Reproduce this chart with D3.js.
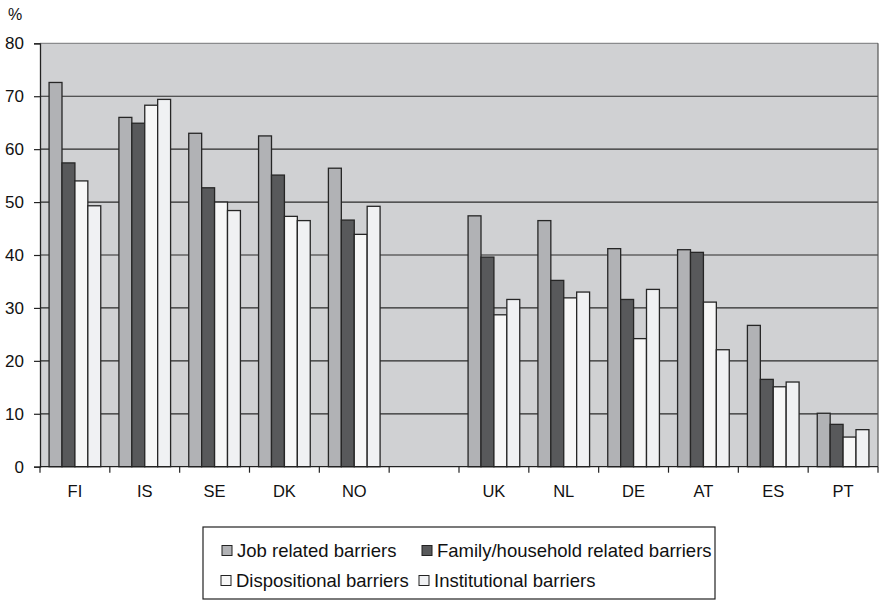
<!DOCTYPE html>
<html>
<head>
<meta charset="utf-8">
<script src="https://cdn.jsdelivr.net/npm/d3@7"></script>
<style>
  body { margin: 0; background: #fff; }
  text { font-family: "Liberation Sans", Arial, sans-serif; fill: #111; }
</style>
</head>
<body>
<svg id="chart" width="879" height="601"></svg>
<script>
// Countries (the empty one is the gap between the Nordic group and the rest)
const countries = ["FI", "IS", "SE", "DK", "NO", "", "UK", "NL", "DE", "AT", "ES", "PT"];

const seriesNames = [
  "Job related barriers",
  "Family/household related barriers",
  "Dispositional barriers",
  "Institutional barriers"
];

// Values per series, in the same order as countries (null for the gap)
const jobRelated    = [72.6, 66.0, 63.0, 62.5, 56.4, null, 47.4, 46.5, 41.2, 41.0, 26.7, 10.1];
const familyRelated = [57.4, 64.9, 52.7, 55.1, 46.6, null, 39.6, 35.2, 31.6, 40.5, 16.5, 8.0];
const dispositional = [54.0, 68.3, 50.0, 47.3, 43.9, null, 28.7, 31.9, 24.2, 31.1, 15.1, 5.6];
const institutional = [49.3, 69.4, 48.4, 46.5, 49.2, null, 31.6, 33.0, 33.5, 22.1, 16.0, 7.0];

const yTicks = [0, 10, 20, 30, 40, 50, 60, 70, 80];

const colors = ["#b1b2b5", "#58595b", "#f7f7f7", "#f0f1f3"];

const svg = d3.select("#chart");

// Plot area
const plotLeft = 40, plotRight = 878, plotTop = 43.3, plotBottom = 466.7;

const x = d3.scaleBand().domain(d3.range(countries.length)).range([plotLeft, plotRight]);
const xs = d3.scaleBand().domain(d3.range(4))
  .range([x.bandwidth() * 0.13, x.bandwidth() * 0.87]);
const y = d3.scaleLinear().domain([0, 80]).range([plotBottom, plotTop]);

// Background
svg.append("rect")
  .attr("x", plotLeft).attr("y", plotTop)
  .attr("width", plotRight - plotLeft).attr("height", plotBottom - plotTop)
  .attr("fill", "#d0d1d3");

// Gridlines
svg.append("g")
  .selectAll("line")
  .data(yTicks.filter(d => d > 0))
  .join("line")
  .attr("x1", plotLeft).attr("x2", plotRight)
  .attr("y1", d => y(d)).attr("y2", d => y(d))
  .attr("stroke", d => d === 80 ? "#8a8b8d" : "#2a2a2a")
  .attr("stroke-width", 1.2);

// Right border
svg.append("line")
  .attr("x1", plotRight).attr("x2", plotRight)
  .attr("y1", plotTop).attr("y2", plotBottom)
  .attr("stroke", "#555").attr("stroke-width", 1.2);

// Bars
const allSeries = [jobRelated, familyRelated, dispositional, institutional];
const rows = [];
countries.forEach((c, i) => {
  allSeries.forEach((s, k) => {
    if (s[i] != null) rows.push({ i, k, value: s[i] });
  });
});

svg.append("g")
  .selectAll("rect")
  .data(rows)
  .join("rect")
  .attr("x", d => x(d.i) + xs(d.k))
  .attr("y", d => y(d.value))
  .attr("width", xs.bandwidth())
  .attr("height", d => y(0) - y(d.value))
  .attr("fill", d => colors[d.k])
  .attr("stroke", "#262626")
  .attr("stroke-width", 1.3);

// Y axis
const yAxis = svg.append("g")
  .attr("transform", `translate(${plotLeft},0)`)
  .call(d3.axisLeft(y).tickValues(yTicks).tickSize(6).tickPadding(10));
yAxis.select(".domain").attr("stroke", "#222").attr("stroke-width", 1.3);
yAxis.selectAll(".tick line").attr("stroke", "#222").attr("stroke-width", 1.2);
yAxis.selectAll(".tick text")
  .style("font-size", "17px")
  .attr("fill", "#111");

// X axis: line with ticks at band boundaries
svg.append("line")
  .attr("x1", plotLeft).attr("x2", plotRight)
  .attr("y1", plotBottom).attr("y2", plotBottom)
  .attr("stroke", "#222").attr("stroke-width", 1.3);

const boundaries = d3.range(countries.length + 1).map(i =>
  i < countries.length ? x(i) : plotRight);
svg.append("g")
  .selectAll("line")
  .data(boundaries)
  .join("line")
  .attr("x1", d => d).attr("x2", d => d)
  .attr("y1", plotBottom).attr("y2", plotBottom + 6)
  .attr("stroke", "#222").attr("stroke-width", 1.2);

svg.append("g")
  .selectAll("text")
  .data(countries)
  .join("text")
  .attr("x", (d, i) => x(i) + x.bandwidth() / 2)
  .attr("y", 497)
  .attr("text-anchor", "middle")
  .style("font-size", "16.5px")
  .text(d => d);

// Unit label
svg.append("text")
  .attr("x", 8).attr("y", 19.5)
  .style("font-size", "16px")
  .text("%");

// Legend
const legend = svg.append("g");
legend.append("rect")
  .attr("x", 203).attr("y", 527)
  .attr("width", 512).attr("height", 72)
  .attr("fill", "#fff")
  .attr("stroke", "#222").attr("stroke-width", 1.2);

const legendPos = [
  { x: 222, y: 556.5 },
  { x: 422, y: 556.5 },
  { x: 221, y: 586.5 },
  { x: 419, y: 586.5 }
];

seriesNames.forEach((name, k) => {
  const p = legendPos[k];
  legend.append("rect")
    .attr("x", p.x).attr("y", p.y - 11)
    .attr("width", 10).attr("height", 10)
    .attr("fill", colors[k])
    .attr("stroke", "#222").attr("stroke-width", 1);
  legend.append("text")
    .attr("x", p.x + 15).attr("y", p.y)
    .style("font-size", "18.5px")
    .text(name);
});
</script>
</body>
</html>
